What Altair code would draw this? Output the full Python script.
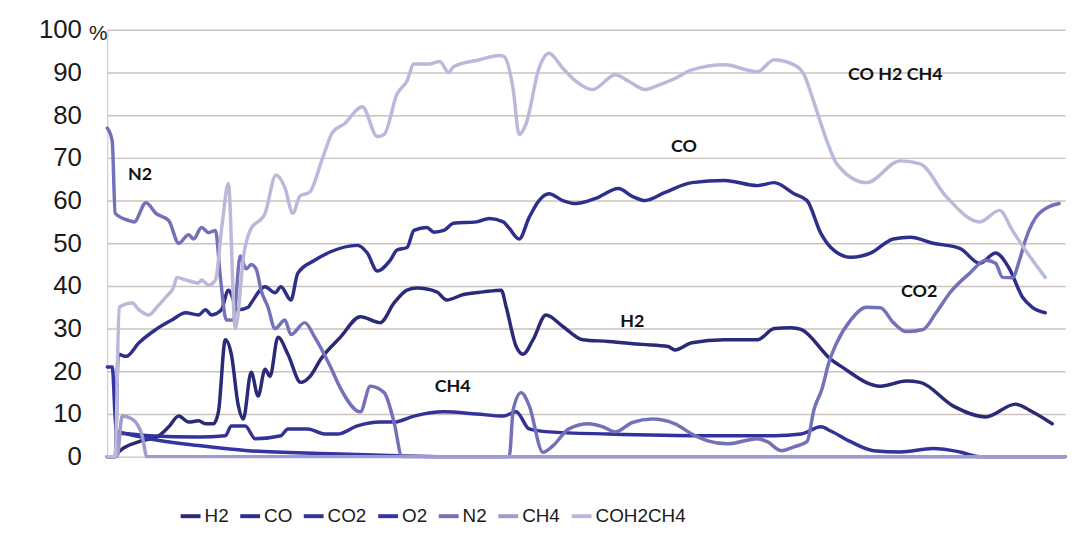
import altair as alt
import pandas as pd

SERIES = ["H2", "CO", "CO2", "O2", "N2", "CH4", "COH2CH4"]
COLORS = ["#2a2a78", "#2e2e8c", "#323298", "#3434a2", "#7371ba", "#9e9ccd", "#bbb8d9"]

H2_T = [0, 8, 12, 32, 52, 62, 72, 82, 92, 99, 107, 112, 119, 125, 132, 137, 145, 152, 159, 164,
        172, 182, 195, 205, 215, 235, 255, 275, 289, 302, 312, 332, 342, 359, 379, 397, 402, 412, 419, 429,
        442, 459, 479, 505, 539, 565, 572, 589, 622, 655, 672, 689, 699, 729, 739, 779, 805, 819, 852, 885,
        915, 932, 952]
H2_V = [0, 0, 1.2, 3.5, 4.9, 7, 9.5, 8.1, 8.4, 7.7, 7.7, 10.5, 27.4, 24, 12, 8.8, 19.8, 14.2, 20.5, 18.8,
        28, 24, 17.4, 19, 22.8, 28, 32.8, 31.4, 36, 39, 39.5, 38.6, 36.7, 38, 38.6, 39, 35, 25.8, 24, 27.4,
        33.2, 30.5, 27.4, 27, 26.3, 25.8, 25, 26.7, 27.4, 27.4, 30, 30.2, 29.8, 22.8, 21.2, 16.5, 17.7, 17.4, 11.9, 9.3,
        12.3, 10.5, 7.7]

CO_T = [0, 8, 11, 19, 32, 49, 65, 79, 92, 99, 105, 115, 122, 132, 142, 145, 159, 169, 175, 185,
        192, 209, 225, 252, 262, 272, 285, 292, 302, 309, 322, 329, 339, 349, 372, 385, 399, 405, 415, 425,
        435, 445, 459, 472, 492, 515, 529, 542, 562, 589, 622, 655, 672, 692, 705, 719, 729, 749, 769, 792,
        809, 832, 859, 879, 895, 909, 922, 932, 945]
CO_V = [0, 0, 24, 23.5, 26.7, 29.8, 32, 33.7, 33.2, 34.4, 33.2, 34.4, 39, 34.4, 35, 36, 39.8, 38.4, 39.8, 36.7,
        43, 46, 48, 49.5, 47.7, 43.5, 46, 48.4, 49, 53, 53.7, 52.6, 53, 54.7, 55, 55.8, 55, 53.5, 51, 56,
        60, 61.6, 60, 59.3, 60.5, 62.8, 61, 60, 61.9, 64.2, 64.7, 63.5, 64.2, 61.6, 60, 52.3, 49, 46.7, 47.7, 51,
        51.4, 50, 48.8, 45.3, 47.7, 44, 37.4, 35, 33.7]

CO2_T = [0, 8, 11, 42, 92, 119, 125, 139, 149, 175, 182, 202, 219, 232, 252, 275, 289, 309, 339, 372,
         399, 412, 425, 445, 505, 605, 672, 699, 719, 729, 749, 772, 799, 832, 859, 879, 965]
CO2_V = [0, 0, 5.5, 4.9, 4.6, 4.9, 7.2, 7.2, 4.2, 4.9, 6.5, 6.5, 5.3, 5.3, 7.2, 8.1, 8.1, 9.5, 10.5, 10,
         9.5, 10.5, 6.5, 5.8, 5.3, 4.9, 4.9, 5.3, 7, 6, 3.5, 1.4, 1.1, 1.9, 1.1, 0, 0]

O2_T = [0, 5, 9, 12, 42, 92, 142, 225, 292, 342, 965]
O2_V = [21, 21, 6, 5.8, 4.2, 2.6, 1.4, 0.7, 0.2, 0, 0]

N2_T = [0, 5, 8, 22, 27, 39, 49, 62, 72, 82, 87, 95, 102, 109, 114, 120, 127, 134, 140, 145,
        150, 155, 162, 169, 179, 185, 199, 209, 225, 235, 255, 265, 279, 289, 297, 405, 409, 417, 425, 439,
        449, 465, 485, 499, 512, 529, 549, 572, 589, 605, 625, 655, 665, 679, 692, 705, 712, 720, 727, 735,
        749, 765, 779, 792, 805, 822, 835, 849, 869, 885, 895, 902, 912, 919, 925, 939, 959]
N2_V = [77, 74, 57, 55.3, 55, 59.5, 57, 55.3, 50, 52, 51, 53.7, 52.5, 53, 42, 32, 32, 47, 44, 45,
        44, 39, 35, 30, 32, 28.6, 31.4, 28, 21, 16, 10.5, 16.5, 15, 8, 0, 0, 11, 15, 12, 1,
        2.5, 6.5, 7.7, 7, 5.8, 8, 8.8, 7.7, 5.3, 3.7, 3, 4.2, 3.5, 1.4, 2.3, 3.5, 11, 15.8, 22, 26.7,
        32, 35, 34.9, 31.4, 29.3, 29.8, 33.7, 38.4, 43, 46, 45.3, 42, 41.9, 46, 50.7, 57, 59.3]

CH4_T = [0, 10, 15, 25, 35, 40, 965]
CH4_V = [0, 0, 9.5, 8.8, 5, 0, 0]

SUM_T = [0, 8, 12, 25, 32, 42, 50, 59, 67, 70, 79, 92, 95, 102, 109, 116, 122, 129, 138, 144,
         159, 170, 179, 187, 194, 204, 217, 227, 239, 257, 272, 279, 292, 302, 309, 325, 335, 344, 349, 375,
         395, 400, 409, 415, 422, 435, 445, 459, 472, 489, 512, 525, 542, 555, 572, 589, 622, 655, 672, 695,
         702, 712, 725, 735, 765, 799, 819, 845, 879, 899, 912, 925, 945]
SUM_V = [0, 0, 35, 36, 34.4, 33.2, 35, 37.4, 39.8, 42, 41.4, 40.7, 41.4, 40.2, 41.4, 55, 64, 30, 48, 53,
         57, 66, 63, 57, 61, 62, 70, 76, 78, 82, 75, 75.5, 85, 88, 92, 92, 92.6, 90, 91.4, 93,
         94, 93.7, 86, 75.5, 78, 91, 94.5, 91, 88, 86, 89.5, 88, 86, 87, 88.6, 90.6, 91.8, 90.2, 93, 91.4,
         89.5, 83, 74, 68.6, 64.2, 69.3, 68.6, 61, 55, 57.7, 53, 48.4, 42]

LABEL_TEXT = ["N2", "CO", "CO H2 CH4", "H2", "CH4", "CO2"]
LABEL_T = [33, 581, 794, 529, 348, 818]
LABEL_V = [66, 72.6, 89.5, 31.6, 16.3, 38.6]

Y_TICKS = list(range(0, 101, 10))

series_data = [
    ("H2", H2_T, H2_V), ("CO", CO_T, CO_V), ("CO2", CO2_T, CO2_V), ("O2", O2_T, O2_V),
    ("N2", N2_T, N2_V), ("CH4", CH4_T, CH4_V), ("COH2CH4", SUM_T, SUM_V),
]
rows = []
for k, (name, ts, vs) in enumerate(series_data):
    for i, (t, v) in enumerate(zip(ts, vs)):
        rows.append({"series": name, "t": t, "v": v, "i": i})
df = pd.DataFrame(rows)

lines = alt.Chart(df).mark_line(strokeWidth=3.5, strokeJoin="round", strokeCap="round",
                                interpolate="monotone").encode(
    x=alt.X("t:Q", scale=alt.Scale(domain=[0, 965], nice=False, zero=False), axis=None),
    y=alt.Y("v:Q", scale=alt.Scale(domain=[0, 100], nice=False),
            axis=alt.Axis(values=Y_TICKS, title=None, grid=True, gridColor="#cdc2be", gridWidth=1.5,
                          domainColor="#cdc2be", domainWidth=1, ticks=False, tickSize=0, labelPadding=26,
                          labelFont="Liberation Sans", labelFontSize=26, labelColor="#1a1a1a")),
    color=alt.Color("series:N", scale=alt.Scale(domain=SERIES, range=COLORS),
                    legend=alt.Legend(title=None, orient="none", legendX=72, legendY=478,
                                      direction="horizontal", symbolType="stroke", symbolStrokeWidth=4,
                                      symbolSize=400, labelFont="Liberation Sans",
                                      labelFontSize=19, labelColor="#1a1a1a", labelOffset=2,
                                      columnPadding=3)),
    order=alt.Order("i:Q"),
)

ann_df = pd.DataFrame({"label": LABEL_TEXT, "t": LABEL_T, "v": LABEL_V})
ann = alt.Chart(ann_df).mark_text(font="Lato", fontWeight="bold", fontSize=18, color="#111111").encode(
    x="t:Q", y="v:Q", text="label:N")

pct = alt.Chart(pd.DataFrame({"p": ["%"]})).mark_text(
    font="Liberation Sans", fontSize=21, color="#1a1a1a", align="center", dy=4
).encode(x=alt.value(-9), y=alt.datum(100), text="p:N")

chart = alt.layer(lines, ann, pct).properties(
    width=965, height=430,
    autosize=alt.AutoSizeParams(type="none"),
    padding={"left": 100, "top": 20, "right": 8, "bottom": 83},
).configure_view(stroke=None)

chart.save("out.html", embed_options={"renderer": "svg", "actions": False})
